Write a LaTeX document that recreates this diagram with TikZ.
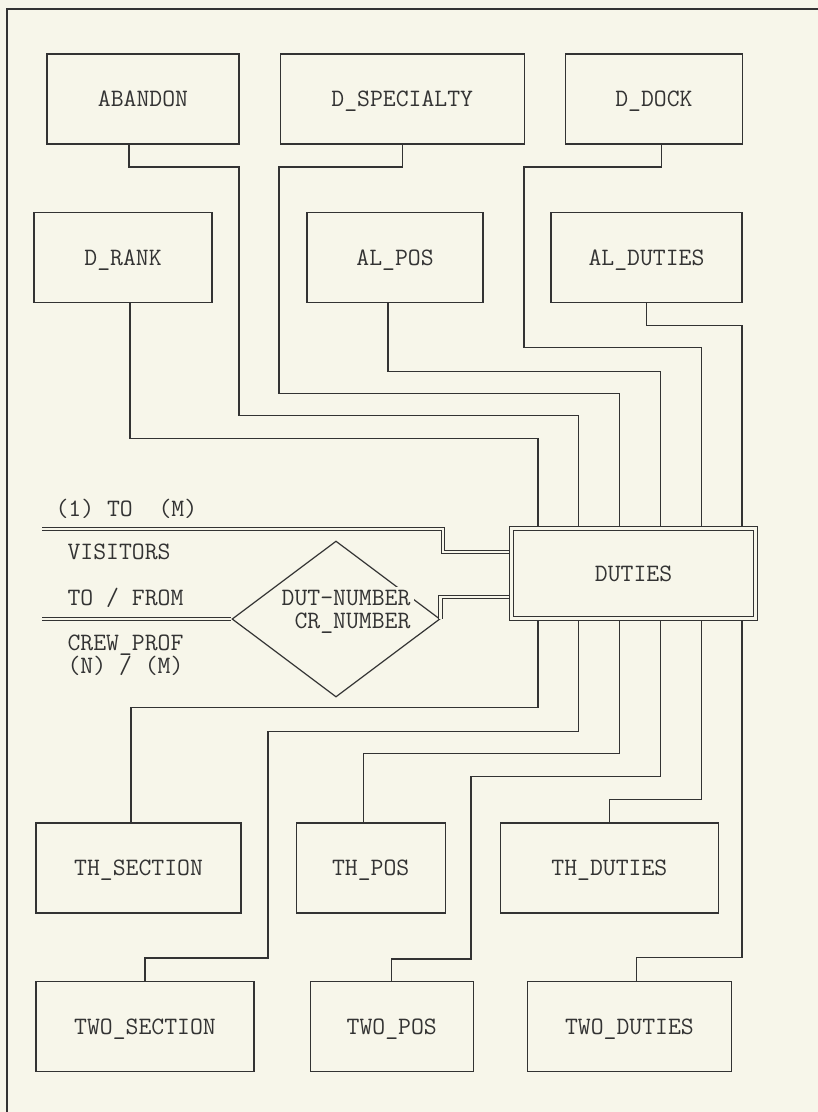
\documentclass[tikz,border=0pt]{standalone}
\usepackage{tikz}
\usetikzlibrary{positioning,shapes.geometric}
\definecolor{ERInk}{HTML}{333333}
\definecolor{ERPaper}{HTML}{F7F6EA}
\newcommand{\erfont}{\ttfamily\fontsize{25}{23}\selectfont}

\begin{document}
\begin{tikzpicture}[
  x=1pt,y=-1pt,
  node distance=40pt,
  line width=1.2pt,
  ent/.style={draw=ERInk,minimum height=90pt,inner sep=0pt,font=\erfont,
    text=ERInk,text height=15.3pt,text depth=0pt},
  hub/.style={ent,double=ERPaper,double distance=2.6pt,line width=1pt,outer sep=2.3pt},
  rel/.style={draw=ERInk,diamond,inner sep=0pt},
  link/.style={draw=ERInk},
  dbl/.style={draw=ERInk,double=ERPaper,double distance=2.6pt,line width=1pt},
  lbl/.style={anchor=base west,inner sep=0pt,font=\erfont,text=ERInk}
]
  \fill[ERPaper] (0,0) rectangle (818,1112);
  \useasboundingbox (0,0) rectangle (818,1112);
  \draw[link] (818,9) -- (7,9) -- (7,1112);

  \node[ent,minimum width=192pt] (abandon) at (143,99) {ABANDON};
  \node[ent,minimum width=244pt,right=of abandon] (dspec) {D\_SPECIALTY};
  \node[ent,minimum width=177pt,right=of dspec] (ddock) {D\_DOCK};
  \node[ent,minimum width=178pt] (drank) at (123,257.5) {D\_RANK};
  \node[ent,minimum width=176pt] (alpos) at (395,257.5) {AL\_POS};
  \node[ent,minimum width=191pt] (alduties) at (646.5,257.5) {AL\_DUTIES};

  \node[hub,minimum width=244pt] (duties) at (633.5,573.5) {DUTIES};
  \node[rel,minimum width=208pt,minimum height=156pt] (rel) at (336,619) {};
  \node[font=\erfont,text=ERInk,align=right,fill=ERPaper,inner xsep=4pt,inner ysep=3pt,
    anchor=east] (relkey) at (415,611.5) {DUT-NUMBER\\CR\_NUMBER};

  \node[lbl] (card) at (55,516.6) {(1) TO~~(M)};
  \node[lbl] (vis) at (67,559.6) {VISITORS};
  \node[lbl] (tofrom) at (67,605.6) {TO / FROM};
  \node[lbl] (crew) at (67,650.6) {CREW\_PROF};
  \node[lbl] (nm) at (67,673.6) {(N) / (M)};

  \coordinate (vis1) at (42,529);
  \coordinate (vis2) at (42,619);
  \draw[dbl] (vis1) -| (443,552) -- ([yshift=21.5pt]duties.west);
  \draw[dbl] (vis2) -- (rel.west);
  \draw[dbl] (rel.east) |- ([yshift=-23.5pt]duties.west);

  \foreach \i/\dx in {1/-95.5,2/-54.7,3/-13.9,4/26.9,5/67.7,6/108.5}{
    \coordinate (n\i) at ([xshift=\dx pt]duties.north);
    \coordinate (s\i) at ([xshift=\dx pt]duties.south);
  }

  \draw[link] ([xshift=7pt]drank.south) |- ([yshift=88pt]n1) -- (n1);
  \draw[link] ([xshift=-14pt]abandon.south) |- (239,167) |- ([yshift=111pt]n2) -- (n2);
  \draw[link] (dspec.south) |- (279,167) |- ([yshift=133pt]n3) -- (n3);
  \draw[link] ([xshift=-7pt]alpos.south) |- ([yshift=155pt]n4) -- (n4);
  \draw[link] ([xshift=7.5pt]ddock.south) |- (524,167) |- ([yshift=179pt]n5) -- (n5);
  \draw[link] (alduties.south) |- ([yshift=201pt]n6) -- (n6);

  \node[ent,minimum width=205pt] (thsec) at (138.5,868) {TH\_SECTION};
  \node[ent,minimum width=149pt,right=54pt of thsec] (thpos) {TH\_POS};
  \node[ent,minimum width=218pt,right=54pt of thpos] (thduties) {TH\_DUTIES};
  \node[ent,minimum width=218pt] (twosec) at (145,1026.5) {TWO\_SECTION};
  \node[ent,minimum width=163pt,right=55pt of twosec] (twopos) {TWO\_POS};
  \node[ent,minimum width=204pt,right=53pt of twopos] (twoduties) {TWO\_DUTIES};

  \draw[link] (s1) -- ([yshift=-87pt]s1) -| ([xshift=-7.5pt]thsec.north);
  \draw[link] (s2) -- ([yshift=-111pt]s2) -| (268,958) -| (twosec.north);
  \draw[link] (s3) -- ([yshift=-133pt]s3) -| ([xshift=-7.5pt]thpos.north);
  \draw[link] (s4) -- ([yshift=-156pt]s4) -| (471,959) -| (twopos.north);
  \draw[link] (s5) -- ([yshift=-179pt]s5) -| (thduties.north);
  \draw[link] (s6) -- ([yshift=-337pt]s6) -| ([xshift=7pt]twoduties.north);
\end{tikzpicture}
\end{document}
